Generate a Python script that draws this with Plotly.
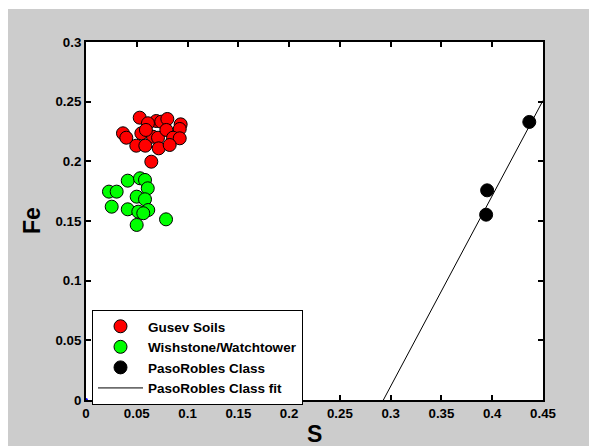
import plotly.graph_objects as go

# ---- data ----
gusev_S = [0.0529, 0.0692, 0.0741, 0.0801, 0.0932, 0.0923, 0.0364, 0.0397, 0.0545, 0.0660,
           0.0709, 0.0791, 0.0857, 0.0923, 0.0495, 0.0584, 0.0716, 0.0824, 0.0643, 0.0610,
           0.0590]
gusev_Fe = [0.2366, 0.2338, 0.2332, 0.2355, 0.2310, 0.2271, 0.2235, 0.2198, 0.2235, 0.2206,
            0.2198, 0.2263, 0.2198, 0.2193, 0.2131, 0.2131, 0.2109, 0.2137, 0.1997, 0.2319,
            0.2263]

wish_S = [0.0411, 0.0532, 0.0581, 0.0608, 0.0226, 0.0302, 0.0499, 0.0581, 0.0253, 0.0411,
          0.0515, 0.0613, 0.0564, 0.0499, 0.0788]
wish_Fe = [0.1838, 0.1858, 0.1844, 0.1774, 0.1746, 0.1746, 0.1704, 0.1682, 0.1620, 0.1598,
           0.1578, 0.1592, 0.1565, 0.1467, 0.1514]

paso_S = [0.4365, 0.3950, 0.3940]
paso_Fe = [0.2330, 0.1757, 0.1553]

fit_S = [0.2928, 0.45]
fit_Fe = [0.0, 0.251]

origin_S = [0.0]
origin_Fe = [0.0]

x_ticks = [0, 0.05, 0.1, 0.15, 0.2, 0.25, 0.3, 0.35, 0.4, 0.45]
x_labels = ["0", "0.05", "0.1", "0.15", "0.2", "0.25", "0.3", "0.35", "0.4", "0.45"]
y_ticks = [0, 0.05, 0.1, 0.15, 0.2, 0.25, 0.3]
y_labels = ["0", "0.05", "0.1", "0.15", "0.2", "0.25", "0.3"]

FONT = "Arial, Liberation Sans, sans-serif"

fig = go.Figure()
fig.add_trace(go.Scatter(x=gusev_S, y=gusev_Fe, mode="markers", name="Gusev Soils",
                         marker=dict(size=13, color="#FF0000", line=dict(color="#000000", width=1))))
fig.add_trace(go.Scatter(x=wish_S, y=wish_Fe, mode="markers", name="Wishstone/Watchtower",
                         marker=dict(size=13, color="#00FF00", line=dict(color="#000000", width=1))))
fig.add_trace(go.Scatter(x=paso_S, y=paso_Fe, mode="markers", name="PasoRobles Class",
                         marker=dict(size=13, color="#000000", line=dict(color="#000000", width=1))))
fig.add_trace(go.Scatter(x=fit_S, y=fit_Fe, mode="lines", name="PasoRobles Class fit",
                         line=dict(color="#000000", width=1)))
fig.add_trace(go.Scatter(x=origin_S, y=origin_Fe, mode="markers", showlegend=False,
                         marker=dict(size=4, color="#0000FF"), cliponaxis=False))

W, H = 589, 446
L, T = 86, 42
pw, ph = 457, 358
R = W - L - pw
B = H - T - ph

def px2x(px):
    return (px - L) / pw

def py2y(py):
    return (T + ph - py) / ph

fig.update_layout(
    width=W, height=H,
    margin=dict(l=L, r=R, t=T, b=B, pad=0),
    paper_bgcolor="#CCCCCC",
    plot_bgcolor="#FFFFFF",
    font=dict(family=FONT, color="#000000"),
    showlegend=True,
    legend=dict(x=px2x(92), y=py2y(310), xanchor="left", yanchor="top",
                bgcolor="#FFFFFF", bordercolor="#000000", borderwidth=1,
                font=dict(family=FONT, size=13.5, color="#000000", weight="bold"),
                itemwidth=45),
    shapes=[
        dict(type="rect", xref="paper", yref="paper", x0=px2x(-2), x1=px2x(8), y0=py2y(H + 2), y1=py2y(-2),
             fillcolor="#FFFFFF", line=dict(width=0)),
        dict(type="rect", xref="paper", yref="paper", x0=px2x(-2), x1=px2x(W + 2), y0=py2y(9), y1=py2y(-2),
             fillcolor="#FFFFFF", line=dict(width=0)),
    ],
    annotations=[
        dict(text="S", xref="paper", yref="paper", x=0.5, y=py2y(434), xanchor="center", yanchor="middle",
             showarrow=False, font=dict(family=FONT, size=23, color="#000000", weight="bold")),
        dict(text="Fe", xref="paper", yref="paper", x=px2x(32), y=0.5, xanchor="center", yanchor="middle",
             textangle=-90, showarrow=False, font=dict(family=FONT, size=23, color="#000000", weight="bold")),
    ],
)

axis_common = dict(showgrid=False, zeroline=False, showline=True, linecolor="#000000", linewidth=2,
                   mirror="ticks", ticks="inside", ticklen=5, tickwidth=1.5, tickcolor="#000000",
                   tickfont=dict(family=FONT, size=13.3, color="#000000", weight="bold"))

fig.update_xaxes(range=[0, 0.45], tickvals=x_ticks, ticktext=x_labels, **axis_common)
fig.update_yaxes(range=[0, 0.3], tickvals=y_ticks, ticktext=y_labels, **axis_common)

# remove the default page margin so the 589x446 figure fills the window exactly
fig.write_html(
    "out.html",
    config={"displayModeBar": False},
    post_script="document.body.style.margin='0';document.documentElement.style.overflow='hidden';",
)
